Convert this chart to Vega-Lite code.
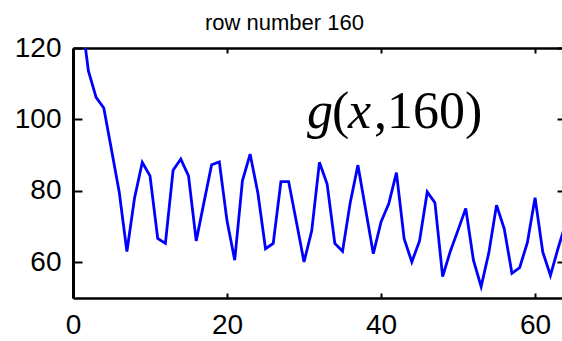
{
  "$schema": "https://vega.github.io/schema/vega-lite/v6.json",
  "width": 489,
  "height": 250,
  "autosize": {"type": "none"},
  "padding": {"left": 73, "top": 48, "right": 0, "bottom": 43},
  "background": "white",
  "config": {"view": {"stroke": null}, "font": "Liberation Sans"},
  "title": {
    "text": "row number 160",
    "anchor": "start",
    "frame": "group",
    "dx": 132,
    "offset": -18,
    "baseline": "alphabetic",
    "font": "Liberation Sans",
    "fontSize": 22,
    "fontWeight": "normal",
    "color": "black"
  },
  "datasets": {
    "row160": [
      {"x": 1, "g": 130.5}, {"x": 2, "g": 113.6}, {"x": 3, "g": 106.2}, {"x": 4, "g": 103.2},
      {"x": 5, "g": 91.5}, {"x": 6, "g": 79.7}, {"x": 7, "g": 63.0}, {"x": 8, "g": 78.1},
      {"x": 9, "g": 88.0}, {"x": 10, "g": 84.2}, {"x": 11, "g": 66.7}, {"x": 12, "g": 65.3},
      {"x": 13, "g": 85.8}, {"x": 14, "g": 88.9}, {"x": 15, "g": 84.2}, {"x": 16, "g": 66.0},
      {"x": 17, "g": 76.7}, {"x": 18, "g": 87.3}, {"x": 19, "g": 88.1}, {"x": 20, "g": 71.6},
      {"x": 21, "g": 60.6}, {"x": 22, "g": 82.8}, {"x": 23, "g": 90.3}, {"x": 24, "g": 79.5},
      {"x": 25, "g": 63.8}, {"x": 26, "g": 65.3}, {"x": 27, "g": 82.6}, {"x": 28, "g": 82.6},
      {"x": 29, "g": 71.4}, {"x": 30, "g": 60.1}, {"x": 31, "g": 68.8}, {"x": 32, "g": 88.0},
      {"x": 33, "g": 81.9}, {"x": 34, "g": 65.3}, {"x": 35, "g": 63.1}, {"x": 36, "g": 76.7},
      {"x": 37, "g": 87.2}, {"x": 38, "g": 74.8}, {"x": 39, "g": 62.4}, {"x": 40, "g": 71.3},
      {"x": 41, "g": 76.4}, {"x": 42, "g": 85.1}, {"x": 43, "g": 66.6}, {"x": 44, "g": 60.1},
      {"x": 45, "g": 66.0}, {"x": 46, "g": 79.7}, {"x": 47, "g": 76.7}, {"x": 48, "g": 56.0},
      {"x": 49, "g": 63.1}, {"x": 50, "g": 69.0}, {"x": 51, "g": 75.1}, {"x": 52, "g": 60.6},
      {"x": 53, "g": 53.2}, {"x": 54, "g": 62.7}, {"x": 55, "g": 76.0}, {"x": 56, "g": 69.4},
      {"x": 57, "g": 56.9}, {"x": 58, "g": 58.5}, {"x": 59, "g": 65.5}, {"x": 60, "g": 78.1},
      {"x": 61, "g": 62.9}, {"x": 62, "g": 56.3}, {"x": 63, "g": 64.0}, {"x": 64, "g": 71.0}
    ],
    "label": [{"x": 30.4, "y": 97.6}]
  },
  "resolve": {"axis": {"x": "independent", "y": "independent"}},
  "layer": [
    {
      "data": {"name": "row160"},
      "mark": {"type": "line", "color": "#0000ff", "strokeWidth": 2.8, "clip": true},
      "encoding": {
        "x": {
          "field": "x", "type": "quantitative",
          "scale": {"domain": [0, 63.5], "nice": false, "zero": false},
          "axis": {
            "orient": "bottom", "values": [0, 20, 40, 60], "title": null, "grid": false,
            "domainColor": "black", "domainWidth": 2.5,
            "tickColor": "black", "tickWidth": 2, "tickSize": -5,
            "labelFont": "Liberation Sans", "labelFontSize": 28, "labelColor": "black",
            "labelPadding": 18, "labelFlush": false, "labelOverlap": false
          }
        },
        "y": {
          "field": "g", "type": "quantitative",
          "scale": {"domain": [50, 120], "nice": false, "zero": false},
          "axis": {
            "orient": "left", "values": [60, 80, 100, 120], "title": null, "grid": false,
            "domainColor": "black", "domainWidth": 3,
            "tickColor": "black", "tickWidth": 2, "tickSize": -9,
            "labelFont": "Liberation Sans", "labelFontSize": 28, "labelColor": "black",
            "labelPadding": 21, "labelFlush": false, "labelOverlap": false
          }
        }
      }
    },
    {
      "data": {"name": "label"},
      "mark": {"type": "text", "text": "g", "font": "Liberation Serif", "fontStyle": "italic", "fontSize": 52, "align": "left", "baseline": "alphabetic", "color": "black"},
      "encoding": {
        "x": {
          "field": "x", "type": "quantitative",
          "axis": {
            "orient": "top", "values": [0, 20, 40, 60], "title": null, "grid": false, "labels": false,
            "domainColor": "black", "domainWidth": 2.5,
            "tickColor": "black", "tickWidth": 2, "tickSize": -5
          }
        },
        "y": {
          "field": "y", "type": "quantitative",
          "axis": {
            "orient": "right", "values": [60, 80, 100, 120], "title": null, "grid": false, "labels": false,
            "domain": false,
            "tickColor": "black", "tickWidth": 2, "tickSize": -5
          }
        }
      }
    },
    {
      "data": {"name": "label"},
      "mark": {"type": "text", "text": "(", "font": "Liberation Serif", "fontSize": 52, "align": "left", "baseline": "alphabetic", "dx": 25, "color": "black"},
      "encoding": {
        "x": {"field": "x", "type": "quantitative", "axis": null},
        "y": {"field": "y", "type": "quantitative", "axis": null}
      }
    },
    {
      "data": {"name": "label"},
      "mark": {"type": "text", "text": "x", "font": "Liberation Serif", "fontStyle": "italic", "fontSize": 52, "align": "left", "baseline": "alphabetic", "dx": 41, "color": "black"},
      "encoding": {
        "x": {"field": "x", "type": "quantitative", "axis": null},
        "y": {"field": "y", "type": "quantitative", "axis": null}
      }
    },
    {
      "data": {"name": "label"},
      "mark": {"type": "text", "text": ",160)", "font": "Liberation Serif", "fontSize": 52, "align": "left", "baseline": "alphabetic", "dx": 67, "color": "black"},
      "encoding": {
        "x": {"field": "x", "type": "quantitative", "axis": null},
        "y": {"field": "y", "type": "quantitative", "axis": null}
      }
    }
  ]
}
